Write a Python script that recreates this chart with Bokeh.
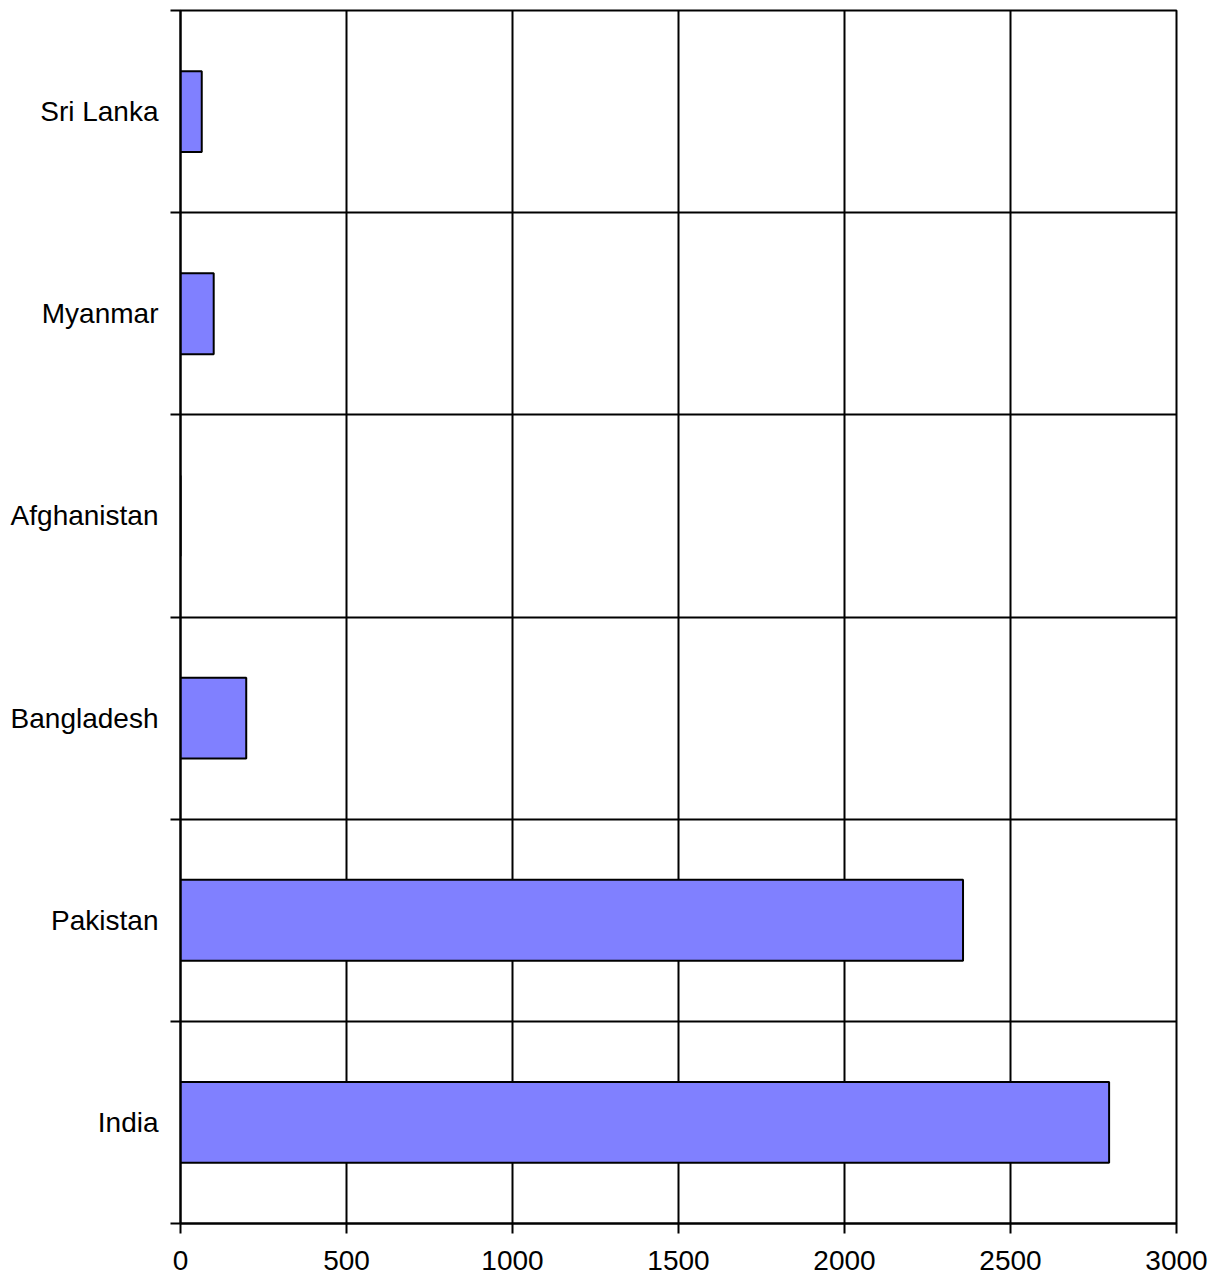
from bokeh.plotting import figure
from bokeh.models import Range1d, FixedTicker
from bokeh.embed import file_html
from bokeh.resources import INLINE

# Data (bottom to top)
countries = ["India", "Pakistan", "Bangladesh", "Afghanistan", "Myanmar", "Sri Lanka"]
values = [2797, 2357, 198, 0, 100, 64]
x_ticks = [0, 500, 1000, 1500, 2000, 2500, 3000]

n = len(countries)
centers = [i + 0.5 for i in range(n)]
bounds = list(range(n + 1))

LW = 2

p = figure(width=1212, height=1278, output_backend="svg", toolbar_location=None,
           x_range=Range1d(0, 3000), y_range=Range1d(0, n),
           min_border_left=180, min_border_right=36, min_border_top=10, min_border_bottom=55)
p.outline_line_color = "black"
p.outline_line_width = LW
p.background_fill_color = "white"
p.border_fill_color = "white"

p.hbar(y=centers, left=0, right=values, height=0.4,
       fill_color="#8080FF", line_color="black", line_width=LW)

FONT = "Liberation Sans"

# x axis
p.xaxis.ticker = FixedTicker(ticks=x_ticks)
p.xaxis.major_tick_out = 10
p.xaxis.major_tick_in = 0
p.xaxis.minor_tick_out = 0
p.xaxis.minor_tick_in = 0
p.xaxis.axis_line_color = "black"
p.xaxis.axis_line_width = LW
p.xaxis.major_tick_line_width = LW
p.xaxis.major_label_text_font = FONT
p.xaxis.major_label_text_font_size = "28px"
p.xaxis.major_label_text_color = "black"
p.xaxis.major_label_standoff = 17

# y axis: labels at centers, boundary ticks as minor ticks
p.yaxis.ticker = FixedTicker(ticks=centers, minor_ticks=bounds)
p.yaxis.major_label_overrides = {c: name for c, name in zip(centers, countries)}
p.yaxis.major_tick_out = 0
p.yaxis.major_tick_in = 0
p.yaxis.minor_tick_out = 10
p.yaxis.minor_tick_in = 0
p.yaxis.minor_tick_line_color = "black"
p.yaxis.minor_tick_line_width = LW
p.yaxis.axis_line_color = "black"
p.yaxis.axis_line_width = LW
p.yaxis.major_label_text_font = FONT
p.yaxis.major_label_text_font_size = "28px"
p.yaxis.major_label_text_color = "black"
p.yaxis.major_label_standoff = 12

# grids
p.xgrid.grid_line_color = "black"
p.xgrid.grid_line_width = LW
p.xgrid.grid_line_alpha = 1.0
p.ygrid.grid_line_color = None
p.ygrid.minor_grid_line_color = "black"
p.ygrid.minor_grid_line_width = LW

open("out.html", "w").write(file_html(p, INLINE))
